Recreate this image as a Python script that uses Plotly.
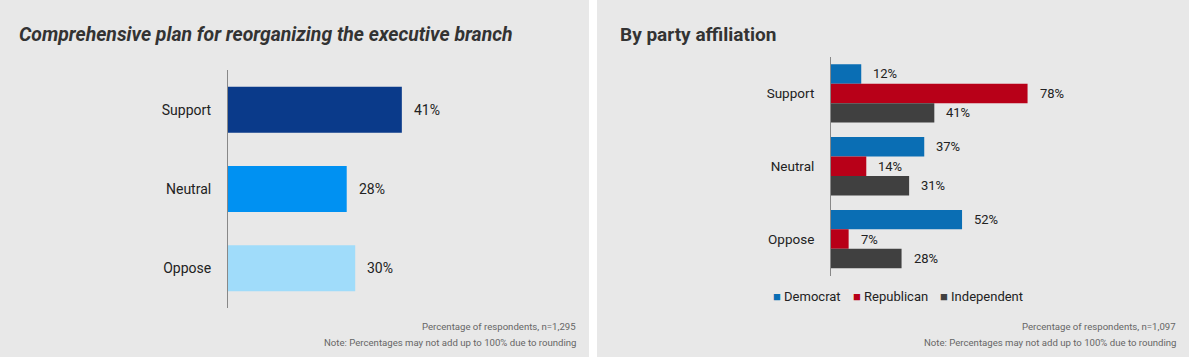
import plotly.graph_objects as go

W, H = 1189, 357

# ---- data ----
categories = ["Support", "Neutral", "Oppose"]
overall_values = [41, 28, 30]
overall_colors = ["#0a3a8a", "#0091f2", "#a0dcfa"]

parties = ["Democrat", "Republican", "Independent"]
democrat_values = [12, 37, 52]
republican_values = [78, 14, 7]
independent_values = [41, 31, 28]
party_values = [democrat_values, republican_values, independent_values]
party_colors = ["#0a6eb4", "#b80018", "#404040"]

left_title = "Comprehensive plan for reorganizing the executive branch"
right_title = "By party affiliation"
left_notes = ["Percentage of respondents, n=1,295",
              "Note: Percentages may not add up to 100% due to rounding"]
right_notes = ["Percentage of respondents, n=1,097",
               "Note: Percentages may not add up to 100% due to rounding"]
legend_x = [773, 853, 940]


def px(x):
    return x / W


def py(y):
    return 1 - y / H


FONT = "Roboto, 'Open Sans', sans-serif"
fig = go.Figure()

# left chart
fig.add_trace(go.Bar(
    x=overall_values, y=categories, orientation="h", width=0.58,
    marker=dict(color=overall_colors, line=dict(width=0)),
    xaxis="x", yaxis="y", showlegend=False, hoverinfo="skip", offsetgroup="left",
))

# right chart
for name, vals, col in zip(parties, party_values, party_colors):
    fig.add_trace(go.Bar(
        x=vals, y=categories, orientation="h", name=name,
        marker=dict(color=col, line=dict(width=0)),
        xaxis="x2", yaxis="y2", hoverinfo="skip", showlegend=False,
    ))

annotations = []
# value labels left
for c, v in zip(categories, overall_values):
    annotations.append(dict(
        x=v, y=c, xref="x", yref="y", text=f"{v}%", showarrow=False,
        xanchor="left", xshift=10, font=dict(size=14, color="#222", family=FONT)))

# value labels right (grouped offsets)
bw = 0.8 / 3
for k, vals in enumerate(party_values):
    off = (k - 1) * bw
    for i, v in enumerate(vals):
        annotations.append(dict(
            x=v, y=i + off, xref="x2", yref="y2", text=f"{v}%", showarrow=False,
            xanchor="left", xshift=10, font=dict(size=13, color="#222", family=FONT)))

# legend (right chart)
for name, col, lx in zip(parties, party_colors, legend_x):
    annotations.append(dict(
        x=px(lx - 2), y=py(296), xref="paper", yref="paper",
        text=f"<span style='color:{col}'>■</span> {name}", showarrow=False,
        xanchor="left", yanchor="middle", font=dict(size=13, color="#222", family=FONT)))

# titles
annotations.append(dict(x=px(17), y=py(34), xref="paper", yref="paper",
                        text=f"<b><i>{left_title}</i></b>", showarrow=False,
                        xanchor="left", yanchor="middle",
                        font=dict(size=19.4, color="#333", family=FONT)))
annotations.append(dict(x=px(618), y=py(34), xref="paper", yref="paper",
                        text=f"<b>{right_title}</b>", showarrow=False,
                        xanchor="left", yanchor="middle",
                        font=dict(size=19, color="#333", family=FONT)))

# notes
for xr, notes in ((578, left_notes), (1178, right_notes)):
    for j, t in enumerate(notes):
        annotations.append(dict(x=px(xr), y=py(326 + 16 * j), xref="paper", yref="paper",
                                text=t, showarrow=False, xanchor="right", yanchor="middle",
                                font=dict(size=9.6, color="#666", family=FONT)))

shapes = [
    dict(type="rect", xref="paper", yref="paper", x0=0, x1=px(589), y0=0, y1=1,
         fillcolor="#e8e8e8", line=dict(width=0), layer="below"),
    dict(type="rect", xref="paper", yref="paper", x0=px(597), x1=1, y0=0, y1=1,
         fillcolor="#e8e8e8", line=dict(width=0), layer="below"),
]

axis_common = dict(showgrid=False, zeroline=False, showticklabels=False, fixedrange=True)
yaxis_common = dict(type="category", autorange="reversed", showgrid=False, zeroline=False,
                    showline=True, linecolor="#888", linewidth=1, ticks="",
                    ticklabelstandoff=13,
                    tickfont=dict(size=14, color="#222", family=FONT), fixedrange=True)

fig.update_layout(
    width=W, height=H,
    margin=dict(l=0, r=0, t=0, b=0),
    paper_bgcolor="white", plot_bgcolor="rgba(0,0,0,0)",
    font=dict(family=FONT, color="#222"),
    barmode="group",
    showlegend=False,
    xaxis=dict(domain=[px(228), px(568)], range=[0, 340 / 4.24], anchor="y", **axis_common),
    yaxis=dict(domain=[py(308), py(70)], anchor="x", **yaxis_common),
    xaxis2=dict(domain=[px(831), px(1160)], range=[0, 329 / 2.52], anchor="y2", **axis_common),
    yaxis2=dict(domain=[py(275.5), py(57)], anchor="x2",
                **{**yaxis_common, "tickfont": dict(size=13.5, color="#222", family=FONT)}),
    bargap=0.2,
    annotations=annotations,
    shapes=shapes,
)

fig.write_html("out.html", config={"displayModeBar": False},
               post_script="document.body.style.margin='0';document.body.style.overflow='hidden';")
